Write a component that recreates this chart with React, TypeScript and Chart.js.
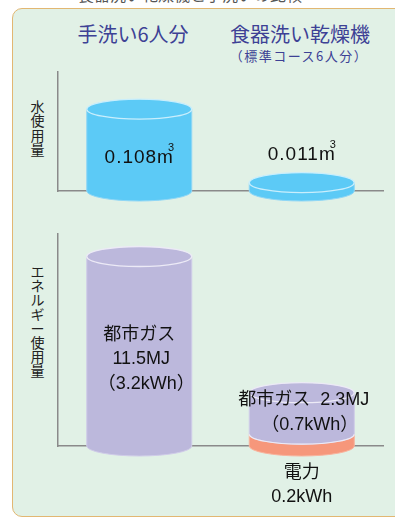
import React, { useEffect, useRef } from 'react';
import { Chart, registerables } from 'chart.js';
Chart.register(...registerables);

// ---- data ----
const categories = ['手洗い6人分', '食器洗い乾燥機'];
const subCaption = '（標準コース6人分）';
const pageTitle = '食器洗い乾燥機と手洗いの比較';
const waterValues = [0.108, 0.011]; // m3
const gasKwh = [3.2, 0.7];
const gasMJ = [11.5, 2.3];
const elecKwh = [0, 0.2];
const gasName = '都市ガス';
const elecName = '電力';
const waterAxisTitle = '水使用量';
const energyAxisTitle = 'エネルギー使用量';

// ---- styles ----
const FONT = '"Liberation Sans", "Noto Sans CJK JP", sans-serif';
const JP = '"Noto Sans CJK JP", sans-serif';
const BLUE = '#5ccaf6';
const BLUE_EDGE = '#8fd6f5';
const BLUE_RIM = '#c9eefc';
const PURPLE = '#bcb8dc';
const PURPLE_EDGE = '#cfcbe8';
const PURPLE_RIM = '#eceaf6';
const ORANGE = '#f6977b';
const ORANGE_EDGE = '#f8b29c';
const AXIS = '#8a8a8a';
const RY = 10;

function body(ctx: CanvasRenderingContext2D, cx: number, top: number, bottom: number, w: number, fill: string, edge: string) {
  const rx = w / 2;
  ctx.beginPath();
  ctx.moveTo(cx - rx, top);
  ctx.lineTo(cx - rx, bottom);
  ctx.ellipse(cx, bottom, rx, RY, 0, Math.PI, 0, true);
  ctx.lineTo(cx + rx, top);
  ctx.closePath();
  ctx.fillStyle = fill;
  ctx.fill();
  ctx.strokeStyle = edge;
  ctx.lineWidth = 1;
  ctx.stroke();
}
function lowerArc(ctx: CanvasRenderingContext2D, cx: number, y: number, w: number, color: string) {
  ctx.beginPath();
  ctx.ellipse(cx, y, w / 2, RY, 0, Math.PI, 0, true);
  ctx.strokeStyle = color;
  ctx.lineWidth = 1.2;
  ctx.stroke();
}
function topCap(ctx: CanvasRenderingContext2D, cx: number, y: number, w: number, fill: string, rim: string) {
  ctx.beginPath();
  ctx.ellipse(cx, y, w / 2, RY, 0, 0, Math.PI * 2);
  ctx.fillStyle = fill;
  ctx.fill();
  ctx.strokeStyle = rim;
  ctx.lineWidth = 1.3;
  ctx.stroke();
}
function label(ctx: CanvasRenderingContext2D, text: string, x: number, y: number, size = 18) {
  ctx.font = `${size}px ${FONT}`;
  ctx.fillStyle = '#111';
  ctx.textAlign = 'center';
  ctx.textBaseline = 'middle';
  ctx.fillText(text, x, y);
}
function waterLabel(ctx: CanvasRenderingContext2D, v: number, x: number, y: number) {
  const main = v.toFixed(3) + 'm';
  ctx.font = `19px ${FONT}`;
  (ctx as any).letterSpacing = '1px';
  const w = ctx.measureText(main).width;
  const total = w;
  ctx.fillStyle = '#111';
  ctx.textAlign = 'left';
  ctx.textBaseline = 'middle';
  ctx.fillText(main, x - total / 2, y);
  (ctx as any).letterSpacing = '0px';
  ctx.font = `11px ${FONT}`;
  ctx.fillText('3', x - total / 2 + w - 6, y - 10);
}

const waterPlugin = {
  id: 'waterCyl',
  afterDatasetsDraw(chart: any) {
    const ctx = chart.ctx as CanvasRenderingContext2D;
    ctx.save();
    chart.getDatasetMeta(0).data.forEach((el: any, i: number) => {
      const { x, y, base, width } = el.getProps(['x', 'y', 'base', 'width'], true);
      body(ctx, x, y, base, width, BLUE, BLUE_EDGE);
      topCap(ctx, x, y, width, BLUE, BLUE_RIM);
      const h = base - y;
      const ly = h > 40 ? (y + base) / 2 + RY - 2 : y - 28;
      waterLabel(ctx, waterValues[i], x, ly);
    });
    ctx.restore();
  },
};

const energyPlugin = {
  id: 'energyCyl',
  afterDatasetsDraw(chart: any) {
    const ctx = chart.ctx as CanvasRenderingContext2D;
    ctx.save();
    const elecMeta = chart.getDatasetMeta(0);
    const gasMeta = chart.getDatasetMeta(1);
    gasMeta.data.forEach((gEl: any, i: number) => {
      const e = elecMeta.data[i].getProps(['x', 'y', 'base', 'width'], true);
      const g = gEl.getProps(['x', 'y', 'base', 'width'], true);
      const x = g.x, w = g.width;
      const hasElec = e.base - e.y > 0.5;
      if (hasElec) body(ctx, x, e.y, e.base, w, ORANGE, ORANGE_EDGE);
      body(ctx, x, g.y, g.base, w, PURPLE, PURPLE_EDGE);
      if (hasElec) lowerArc(ctx, x, g.base, w, PURPLE_RIM);
      topCap(ctx, x, g.y, w, PURPLE, PURPLE_RIM);
      const kwh = `（${gasKwh[i].toFixed(1)}kWh）`;
      const mj = `${gasMJ[i].toFixed(1)}MJ`;
      if (g.base - g.y > 100) {
        const mid = (g.y + g.base) / 2 + RY - 2;
        label(ctx, gasName, x, mid - 24.5);
        label(ctx, mj, x + 2, mid);
        label(ctx, kwh, x + 7, mid + 24.5);
      } else {
        label(ctx, `${gasName}  ${mj}`, x + 2, g.y + 7);
        label(ctx, kwh, x + 8, g.y + 32);
      }
      if (hasElec) {
        label(ctx, elecName, x, e.base + 27);
        label(ctx, `${elecKwh[i].toFixed(1)}kWh`, x, e.base + 51);
      }
    });
    ctx.restore();
  },
};

const axisOpts = (extra: any) => ({
  grid: { display: false },
  ticks: { display: false },
  border: { display: true, color: AXIS, width: 1.5 },
  ...extra,
});

export default function App() {
  const c1 = useRef<HTMLCanvasElement>(null);
  const c2 = useRef<HTMLCanvasElement>(null);
  useEffect(() => {
    document.body.style.margin = '0';
    const common = {
      responsive: false,
      animation: false as const,
      events: [] as any[],
      plugins: { legend: { display: false }, tooltip: { enabled: false } },
    };
    const ch1 = new Chart(c1.current!, {
      type: 'bar',
      data: {
        labels: categories,
        datasets: [{ label: 'water', data: waterValues, backgroundColor: 'rgba(0,0,0,0)', barThickness: 105 }],
      },
      options: {
        ...common,
        layout: { padding: { left: 58, right: 12, top: 72, bottom: 24 } },
        scales: {
          x: axisOpts({ afterFit: (s: any) => { s.height = 0; } }),
          y: axisOpts({ min: 0, max: 0.157, afterFit: (s: any) => { s.width = 0; } }),
        },
      },
      plugins: [waterPlugin],
    } as any);
    const ch2 = new Chart(c2.current!, {
      type: 'bar',
      data: {
        labels: categories,
        datasets: [
          { label: elecName, data: elecKwh, backgroundColor: 'rgba(0,0,0,0)', barThickness: 105, stack: 'e' },
          { label: gasName, data: gasKwh, backgroundColor: 'rgba(0,0,0,0)', barThickness: 105, stack: 'e' },
        ],
      },
      options: {
        ...common,
        layout: { padding: { left: 58, right: 12, top: 19, bottom: 72 } },
        scales: {
          x: axisOpts({ stacked: true, afterFit: (s: any) => { s.height = 0; } }),
          y: axisOpts({ stacked: true, min: 0, max: 3.58, afterFit: (s: any) => { s.width = 0; } }),
        },
      },
      plugins: [energyPlugin],
    } as any);
    return () => { ch1.destroy(); ch2.destroy(); };
  }, []);

  const vert = (text: string, top: number, lh: number) => (
    <div style={{ position: 'absolute', left: 30, top, width: 15, fontFamily: JP, fontSize: 14, lineHeight: `${lh}px`, color: '#222', textAlign: 'center' }}>
      {Array.from(text).map((ch, i) => <div key={i}>{ch}</div>)}
    </div>
  );

  return (
    <div style={{ position: 'relative', width: 395, height: 518, overflow: 'hidden', background: '#fff', fontFamily: FONT }}>
      <div style={{ position: 'absolute', left: 0, top: -14, width: 380, textAlign: 'center', fontFamily: JP, fontSize: 16, lineHeight: '16px', color: '#555' }}>{pageTitle}</div>
      <div style={{ position: 'absolute', left: 12, top: 8, width: 420, height: 509, boxSizing: 'border-box', border: '1.5px solid #e2b772', borderRadius: 10, background: '#e1f1e6' }} />
      <div style={{ position: 'absolute', left: 33, top: 24, width: 200, textAlign: 'center', fontFamily: JP, fontSize: 20, lineHeight: '20px', color: '#3d4195' }}>{categories[0]}</div>
      <div style={{ position: 'absolute', left: 200, top: 24, width: 200, textAlign: 'center', fontFamily: JP, fontSize: 20, lineHeight: '20px', color: '#3d4195' }}>{categories[1]}</div>
      <div style={{ position: 'absolute', left: 199, top: 49, width: 200, textAlign: 'center', fontFamily: JP, fontSize: 13, lineHeight: '13px', letterSpacing: '1.5px', color: '#3d4195' }}>{subCaption}</div>
      {vert(waterAxisTitle, 99, 14.3)}
      {vert(energyAxisTitle, 264, 14.2)}
      <canvas ref={c1} width={395} height={215} style={{ position: 'absolute', left: 0, top: 0, width: 395, height: 215 }} />
      <canvas ref={c2} width={395} height={303} style={{ position: 'absolute', left: 0, top: 215, width: 395, height: 303 }} />
    </div>
  );
}
